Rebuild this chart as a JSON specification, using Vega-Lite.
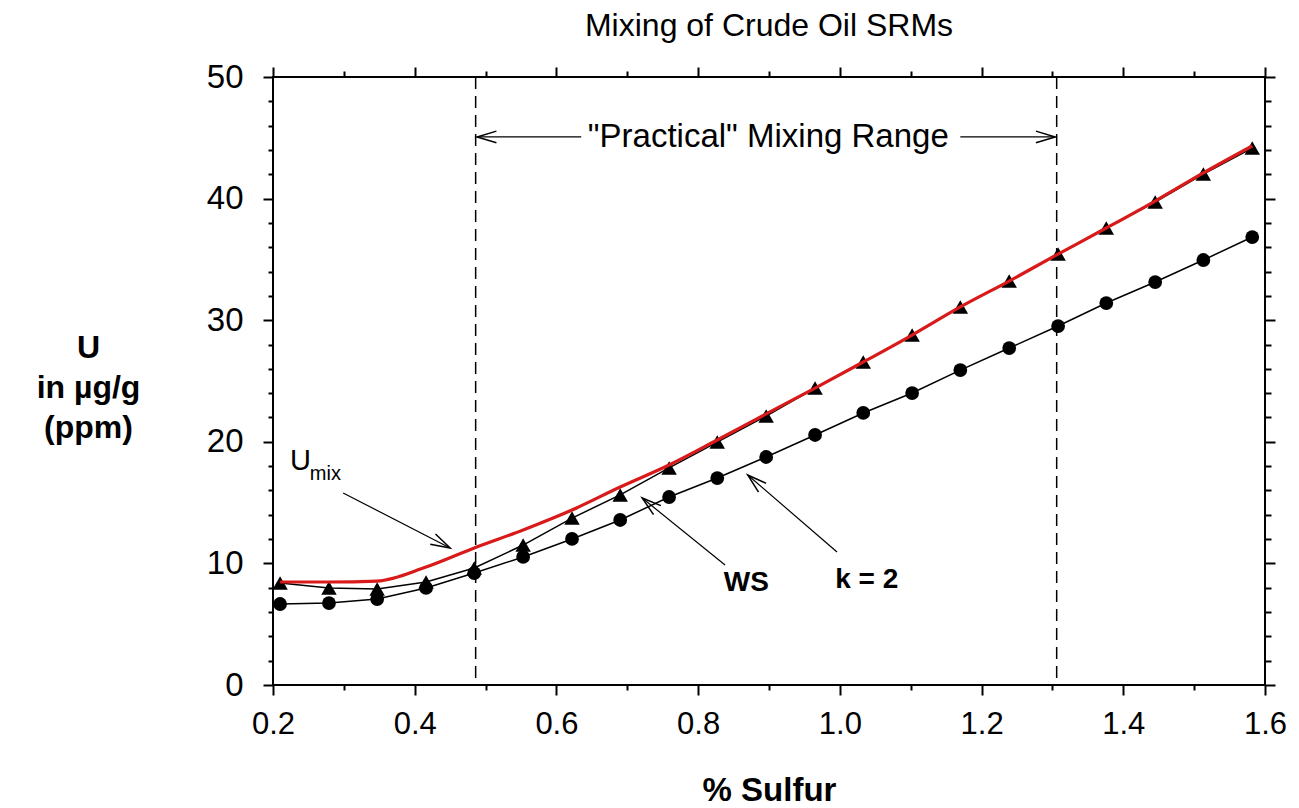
{
  "$schema": "https://vega.github.io/schema/vega-lite/v6.json",
  "width": 992,
  "height": 608,
  "autosize": {"type": "none"},
  "padding": {"left": 273, "top": 77, "right": 34, "bottom": 123},
  "background": "white",
  "config": {
    "view": {"stroke": "black", "strokeWidth": 2},
    "font": "Liberation Sans, Arial, sans-serif",
    "axis": {"domain": false, "grid": false, "tickColor": "black", "tickWidth": 2, "labelColor": "black", "titleColor": "black", "labelFont": "Liberation Sans, Arial, sans-serif", "titleFont": "Liberation Sans, Arial, sans-serif"}
  },
  "title": {"text": "Mixing of Crude Oil SRMs", "fontSize": 32, "fontWeight": "normal", "font": "Liberation Sans, Arial, sans-serif", "color": "black", "anchor": "middle", "baseline": "bottom", "offset": -14},
  "datasets": {
    "umix": [
      {"x": 0.210, "y": 8.47}, {"x": 0.279, "y": 8.47}, {"x": 0.347, "y": 8.55}, {"x": 0.416, "y": 9.70}, {"x": 0.484, "y": 11.27}, {"x": 0.553, "y": 12.75}, {"x": 0.622, "y": 14.39}, {"x": 0.690, "y": 16.28}, {"x": 0.759, "y": 18.09}, {"x": 0.827, "y": 20.15}, {"x": 0.896, "y": 22.29}, {"x": 0.965, "y": 24.42}, {"x": 1.033, "y": 26.56}, {"x": 1.102, "y": 28.78}, {"x": 1.170, "y": 31.09}, {"x": 1.239, "y": 33.22}, {"x": 1.308, "y": 35.44}, {"x": 1.376, "y": 37.58}, {"x": 1.445, "y": 39.80}, {"x": 1.513, "y": 42.11}, {"x": 1.582, "y": 44.33}
    ],
    "ws": [
      {"x": 0.210, "y": 8.39}, {"x": 0.279, "y": 7.98}, {"x": 0.347, "y": 7.89}, {"x": 0.416, "y": 8.47}, {"x": 0.484, "y": 9.62}, {"x": 0.553, "y": 11.51}, {"x": 0.622, "y": 13.73}, {"x": 0.690, "y": 15.63}, {"x": 0.759, "y": 17.85}, {"x": 0.827, "y": 19.98}, {"x": 0.896, "y": 22.12}, {"x": 0.965, "y": 24.42}, {"x": 1.033, "y": 26.56}, {"x": 1.102, "y": 28.78}, {"x": 1.170, "y": 31.09}, {"x": 1.239, "y": 33.22}, {"x": 1.308, "y": 35.44}, {"x": 1.376, "y": 37.58}, {"x": 1.445, "y": 39.72}, {"x": 1.513, "y": 42.02}, {"x": 1.582, "y": 44.16}
    ],
    "k2": [
      {"x": 0.210, "y": 6.66}, {"x": 0.279, "y": 6.74}, {"x": 0.347, "y": 7.07}, {"x": 0.416, "y": 7.98}, {"x": 0.484, "y": 9.21}, {"x": 0.553, "y": 10.53}, {"x": 0.622, "y": 12.01}, {"x": 0.690, "y": 13.57}, {"x": 0.759, "y": 15.46}, {"x": 0.827, "y": 17.02}, {"x": 0.896, "y": 18.75}, {"x": 0.965, "y": 20.56}, {"x": 1.033, "y": 22.37}, {"x": 1.102, "y": 24.01}, {"x": 1.170, "y": 25.90}, {"x": 1.239, "y": 27.71}, {"x": 1.308, "y": 29.52}, {"x": 1.376, "y": 31.41}, {"x": 1.445, "y": 33.14}, {"x": 1.513, "y": 34.95}, {"x": 1.582, "y": 36.84}
    ],
    "bounds": [{"x": 0.486}, {"x": 1.306}],
    "arrows": [
      {"x": 0.299, "y": 15.79, "x2": 0.450, "y2": 11.27},
      {"x": 0.838, "y": 9.87, "x2": 0.721, "y2": 15.38},
      {"x": 0.996, "y": 10.94, "x2": 0.870, "y2": 17.27},
      {"x": 0.635, "y": 45.07, "x2": 0.488, "y2": 45.07},
      {"x": 1.170, "y": 45.07, "x2": 1.304, "y2": 45.07}
    ]
  },
  "resolve": {"axis": {"x": "independent", "y": "independent"}},
  "layer": [
    {
      "data": {"name": "bounds"},
      "mark": {"type": "rule", "color": "black", "strokeWidth": 1.5, "strokeDash": [12, 7]},
      "encoding": {
        "x": {"field": "x", "type": "quantitative", "scale": {"domain": [0.2, 1.6], "nice": false, "zero": false}, "axis": null}
      }
    },
    {
      "data": {"name": "arrows"},
      "mark": {"type": "rule", "color": "black", "strokeWidth": 1.2},
      "encoding": {
        "x": {"field": "x", "type": "quantitative", "scale": {"domain": [0.2, 1.6], "nice": false, "zero": false}, "axis": null},
        "y": {"field": "y", "type": "quantitative", "scale": {"domain": [0, 50], "nice": false, "zero": false}, "axis": null},
        "x2": {"field": "x2"},
        "y2": {"field": "y2"}
      }
    },
    {
      "data": {"values": [{"x": 0.450, "y": 11.27}]},
      "mark": {"type": "point", "shape": "M -1 -0.3 L 0 0 L -1 0.3", "filled": false, "color": "black", "strokeWidth": 1.5, "size": 1500, "angle": 27, "opacity": 1},
      "encoding": {
        "x": {"field": "x", "type": "quantitative", "scale": {"domain": [0.2, 1.6], "nice": false, "zero": false}, "axis": null},
        "y": {"field": "y", "type": "quantitative", "scale": {"domain": [0, 50], "nice": false, "zero": false}, "axis": null}
      }
    },
    {
      "data": {"values": [{"x": 0.721, "y": 15.38}]},
      "mark": {"type": "point", "shape": "M -1 -0.3 L 0 0 L -1 0.3", "filled": false, "color": "black", "strokeWidth": 1.5, "size": 1500, "angle": 219, "opacity": 1},
      "encoding": {
        "x": {"field": "x", "type": "quantitative", "scale": {"domain": [0.2, 1.6], "nice": false, "zero": false}, "axis": null},
        "y": {"field": "y", "type": "quantitative", "scale": {"domain": [0, 50], "nice": false, "zero": false}, "axis": null}
      }
    },
    {
      "data": {"values": [{"x": 0.870, "y": 17.27}]},
      "mark": {"type": "point", "shape": "M -1 -0.3 L 0 0 L -1 0.3", "filled": false, "color": "black", "strokeWidth": 1.5, "size": 1500, "angle": 221, "opacity": 1},
      "encoding": {
        "x": {"field": "x", "type": "quantitative", "scale": {"domain": [0.2, 1.6], "nice": false, "zero": false}, "axis": null},
        "y": {"field": "y", "type": "quantitative", "scale": {"domain": [0, 50], "nice": false, "zero": false}, "axis": null}
      }
    },
    {
      "data": {"values": [{"x": 0.488, "y": 45.07}]},
      "mark": {"type": "point", "shape": "M -1 -0.3 L 0 0 L -1 0.3", "filled": false, "color": "black", "strokeWidth": 1.5, "size": 1500, "angle": 180, "opacity": 1},
      "encoding": {
        "x": {"field": "x", "type": "quantitative", "scale": {"domain": [0.2, 1.6], "nice": false, "zero": false}, "axis": null},
        "y": {"field": "y", "type": "quantitative", "scale": {"domain": [0, 50], "nice": false, "zero": false}, "axis": null}
      }
    },
    {
      "data": {"values": [{"x": 1.304, "y": 45.07}]},
      "mark": {"type": "point", "shape": "M -1 -0.3 L 0 0 L -1 0.3", "filled": false, "color": "black", "strokeWidth": 1.5, "size": 1500, "angle": 0, "opacity": 1},
      "encoding": {
        "x": {"field": "x", "type": "quantitative", "scale": {"domain": [0.2, 1.6], "nice": false, "zero": false}, "axis": null},
        "y": {"field": "y", "type": "quantitative", "scale": {"domain": [0, 50], "nice": false, "zero": false}, "axis": null}
      }
    },
    {
      "data": {"name": "ws"},
      "mark": {"type": "line", "color": "black", "strokeWidth": 1.5},
      "encoding": {
        "x": {"field": "x", "type": "quantitative", "scale": {"domain": [0.2, 1.6], "nice": false, "zero": false},
          "axis": {"orient": "bottom", "values": [0.3, 0.5, 0.7, 0.9, 1.1, 1.3, 1.5], "tickSize": 5, "labels": false, "title": null}},
        "y": {"field": "y", "type": "quantitative", "scale": {"domain": [0, 50], "nice": false, "zero": false},
          "axis": {"orient": "left", "values": [2, 4, 6, 8, 12, 14, 16, 18, 22, 24, 26, 28, 32, 34, 36, 38, 42, 44, 46, 48], "tickSize": 5, "labels": false, "title": null}}
      }
    },
    {
      "data": {"name": "k2"},
      "mark": {"type": "line", "color": "black", "strokeWidth": 1.5},
      "encoding": {
        "x": {"field": "x", "type": "quantitative", "scale": {"domain": [0.2, 1.6], "nice": false, "zero": false},
          "axis": {"orient": "bottom", "values": [0.2, 0.4, 0.6, 0.8, 1.0, 1.2, 1.4, 1.6], "format": ".1f", "tickSize": 10, "labelFontSize": 31, "labelPadding": 14, "labelFlush": false, "labelOverlap": false,
            "title": "% Sulfur", "titleFontSize": 33, "titleFontWeight": "bold", "titleY": 105, "titleBaseline": "middle"}},
        "y": {"field": "y", "type": "quantitative", "scale": {"domain": [0, 50], "nice": false, "zero": false},
          "axis": {"orient": "left", "values": [0, 10, 20, 30, 40, 50], "format": "d", "tickSize": 10, "labelFontSize": 33, "labelPadding": 20, "labelFlush": false, "labelOverlap": false,
            "title": ["U", "in µg/g", "(ppm)"], "titleFontSize": 32, "titleFontWeight": "bold", "titleAngle": 0, "titleAlign": "center", "titleBaseline": "middle", "titleX": -185, "titleY": 270, "titleLineHeight": 40}}
      }
    },
    {
      "data": {"name": "ws"},
      "mark": {"type": "point", "shape": "triangle-up", "filled": true, "color": "black", "size": 240, "opacity": 1},
      "encoding": {
        "x": {"field": "x", "type": "quantitative", "scale": {"domain": [0.2, 1.6], "nice": false, "zero": false},
          "axis": {"orient": "top", "values": [0.2, 0.4, 0.6, 0.8, 1.0, 1.2, 1.4, 1.6], "tickSize": 10, "labels": false, "title": null}},
        "y": {"field": "y", "type": "quantitative", "scale": {"domain": [0, 50], "nice": false, "zero": false},
          "axis": {"orient": "right", "values": [0, 10, 20, 30, 40, 50], "tickSize": 10, "labels": false, "title": null}}
      }
    },
    {
      "data": {"name": "k2"},
      "mark": {"type": "point", "shape": "circle", "filled": true, "color": "black", "size": 190, "opacity": 1},
      "encoding": {
        "x": {"field": "x", "type": "quantitative", "scale": {"domain": [0.2, 1.6], "nice": false, "zero": false},
          "axis": {"orient": "top", "values": [0.3, 0.5, 0.7, 0.9, 1.1, 1.3, 1.5], "tickSize": 6, "labels": false, "title": null}},
        "y": {"field": "y", "type": "quantitative", "scale": {"domain": [0, 50], "nice": false, "zero": false},
          "axis": {"orient": "right", "values": [2, 4, 6, 8, 12, 14, 16, 18, 22, 24, 26, 28, 32, 34, 36, 38, 42, 44, 46, 48], "tickSize": 6, "labels": false, "title": null}}
      }
    },
    {
      "data": {"name": "umix"},
      "mark": {"type": "line", "color": "#d91a1a", "strokeWidth": 3.2, "interpolate": "monotone"},
      "encoding": {
        "x": {"field": "x", "type": "quantitative", "scale": {"domain": [0.2, 1.6], "nice": false, "zero": false}, "axis": null},
        "y": {"field": "y", "type": "quantitative", "scale": {"domain": [0, 50], "nice": false, "zero": false}, "axis": null}
      }
    },
    {
      "data": {"values": [{"x": 0.899, "y": 45.07, "t": "\"Practical\" Mixing Range"}]},
      "mark": {"type": "text", "fontSize": 33, "color": "black", "align": "center", "baseline": "middle"},
      "encoding": {
        "x": {"field": "x", "type": "quantitative", "scale": {"domain": [0.2, 1.6], "nice": false, "zero": false}, "axis": null},
        "y": {"field": "y", "type": "quantitative", "scale": {"domain": [0, 50], "nice": false, "zero": false}, "axis": null},
        "text": {"field": "t"}
      }
    },
    {
      "data": {"values": [{"x": 0.224, "y": 17.68, "t": "U"}]},
      "mark": {"type": "text", "fontSize": 29, "color": "black", "align": "left", "baseline": "alphabetic"},
      "encoding": {
        "x": {"field": "x", "type": "quantitative", "scale": {"domain": [0.2, 1.6], "nice": false, "zero": false}, "axis": null},
        "y": {"field": "y", "type": "quantitative", "scale": {"domain": [0, 50], "nice": false, "zero": false}, "axis": null},
        "text": {"field": "t"}
      }
    },
    {
      "data": {"values": [{"x": 0.252, "y": 16.86, "t": "mix"}]},
      "mark": {"type": "text", "fontSize": 20, "color": "black", "align": "left", "baseline": "alphabetic"},
      "encoding": {
        "x": {"field": "x", "type": "quantitative", "scale": {"domain": [0.2, 1.6], "nice": false, "zero": false}, "axis": null},
        "y": {"field": "y", "type": "quantitative", "scale": {"domain": [0, 50], "nice": false, "zero": false}, "axis": null},
        "text": {"field": "t"}
      }
    },
    {
      "data": {"values": [{"x": 0.868, "y": 8.39, "t": "WS"}, {"x": 1.038, "y": 8.63, "t": "k = 2"}]},
      "mark": {"type": "text", "fontSize": 28, "fontWeight": "bold", "color": "black", "align": "center", "baseline": "middle"},
      "encoding": {
        "x": {"field": "x", "type": "quantitative", "scale": {"domain": [0.2, 1.6], "nice": false, "zero": false}, "axis": null},
        "y": {"field": "y", "type": "quantitative", "scale": {"domain": [0, 50], "nice": false, "zero": false}, "axis": null},
        "text": {"field": "t"}
      }
    }
  ]
}
